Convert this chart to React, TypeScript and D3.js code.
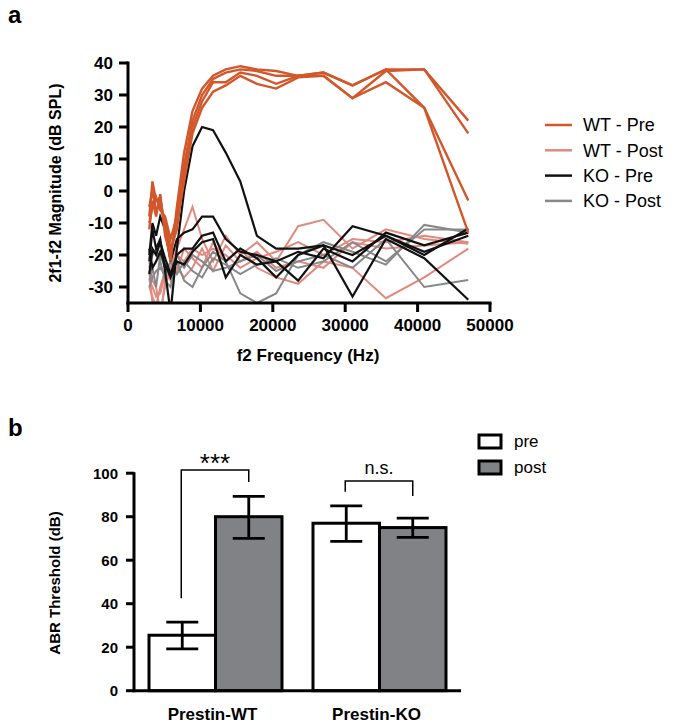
import React from "react";
import * as d3 from "d3";

// ---------- Panel a data ----------
const freqs = [2940, 3375, 3880, 4450, 5120, 5880, 6750, 7750, 8910, 10230, 11750, 13500, 15510, 17810, 20460, 23500, 27000, 31010, 35620, 40920, 47000];

const wtPre = [
  [-8, 3, -3, -2, -12, -22, -5, 12, 25, 32, 36, 38, 39, 38, 37.5, 36, 37, 33, 38, 38, 22],
  [-10, -5, -2, -6, -8, -15, -8, 8, 22, 30, 35, 37, 38, 37.5, 36, 36, 36, 29, 37.5, 38, 18],
  [-5, 0, -6, -4, -10, -18, -12, 5, 20, 28, 34, 34, 37, 36, 33.5, 36, 37, 33, 38, 26, -3],
  [-12, -3, -8, -1, -14, -20, -10, 3, 18, 26, 31, 33, 36, 33.5, 32, 35.5, 36, 29, 34, 26, -13],
];
const wtPost = [
  [-22, -28, -30, -38, -30, -24, -18, -12, -5, -15, -22, -14, -20, -16, -22, -11, -9, -18, -12, -15, -16.5],
  [-25, -35, -38, -40, -28, -26, -20, -22, -18, -20, -18, -20, -24, -21, -19, -16, -20, -15, -16, -14, -16],
  [-28, -30, -33, -32, -26, -22, -25, -18, -21, -24, -16, -22, -18, -24, -27, -29, -22, -24, -33.5, -27, -18],
  [-30, -33, -36, -30, -25, -28, -24, -27, -24, -18, -25, -17, -22, -19, -24, -22, -24, -16, -18, -17, -16],
];
const koPre = [
  [-22, -12, -18, -15, -25, -38, -18, 0, 14, 20, 19, 12, 3, -14, -18, -18, -17, -20, -14, -20, -11.7],
  [-20, -10, -14, -8, -12, -22, -15, -13, -12, -8, -8, -15, -19, -20, -22, -19, -21, -11, -14, -19, -14],
  [-26, -18, -20, -16, -21, -26, -20, -18, -18, -14, -13, -22, -18, -21, -27, -20, -17, -33, -15, -21, -34],
  [-18, -24, -22, -19, -23, -27, -22, -23, -19, -16, -15, -27, -20, -23, -22, -28, -18, -22, -13, -17, -13],
];
const koPost = [
  [-28, -24, -30, -20, -24, -26, -22, -28, -30, -24, -19, -22, -32, -35, -32, -20, -16, -19, -23, -10.6, -13],
  [-24, -20, -18, -22, -28, -30, -20, -24, -20, -22, -25, -24, -22, -20, -25, -22, -20, -24, -15, -30, -27.8],
  [-30, -27, -25, -24, -26, -22, -26, -22, -25, -27, -21, -23, -26, -23, -21, -24, -22, -16, -22, -12, -12],
];
const xTicksA = [0, 10000, 20000, 30000, 40000, 50000];
const yTicksA = [-30, -20, -10, 0, 10, 20, 30, 40];
const legendA = ["WT - Pre", "WT - Post", "KO - Pre", "KO - Post"];

// ---------- Panel b data ----------
const groups = ["Prestin-WT", "Prestin-KO"];
const conditions = ["pre", "post"];
const meanPre = [25.5, 77];
const meanPost = [80, 75];
const errLoPre = [19.2, 68.7];
const errHiPre = [31.5, 85];
const errLoPost = [70, 70.5];
const errHiPost = [89.3, 79.3];
const yTicksB = [0, 20, 40, 60, 80, 100];
const sigLabels = ["***", "n.s."];
const sigTop = [101.5, 96.4];
const sigLeftBottom = [42.5, 91.5];
const sigRightBottom = [96, 89.5];

const FONT = "'Liberation Sans', Arial, Helvetica, sans-serif";
const C_WTPRE = "#d2572b";
const C_WTPOST = "#e08a80";
const C_KOPRE = "#111111";
const C_KOPOST = "#888888";

export default function App() {
  // panel a scales
  const xA = d3.scaleLinear().domain([0, 50000]).range([128, 490]);
  const yA = d3.scaleLinear().domain([-35, 40]).range([303, 63]);
  const lineA = d3
    .line<number>()
    .x((_, i) => xA(freqs[i]))
    .y((d) => yA(d));

  const seriesA = [
    { data: wtPost, color: C_WTPOST, w: 2 },
    { data: koPost, color: C_KOPOST, w: 2 },
    { data: koPre, color: C_KOPRE, w: 2.2 },
    { data: wtPre, color: C_WTPRE, w: 2.4 },
  ];
  const legendColors = [C_WTPRE, C_WTPOST, C_KOPRE, C_KOPOST];

  // panel b scales
  const xB = d3.scaleBand<string>().domain(groups).range([134, 461]).paddingInner(0.189).paddingOuter(0.0915);
  const xSub = d3.scaleBand<string>().domain(conditions).range([0, xB.bandwidth()]).padding(0);
  const yB = d3.scaleLinear().domain([0, 100]).range([690.7, 473.2]);

  const bars: { g: number; c: string; v: number; lo: number; hi: number }[] = [];
  groups.forEach((g, i) => {
    bars.push({ g: i, c: "pre", v: meanPre[i], lo: errLoPre[i], hi: errHiPre[i] });
    bars.push({ g: i, c: "post", v: meanPost[i], lo: errLoPost[i], hi: errHiPost[i] });
  });

  return (
    <svg width={675} height={728} style={{ position: "absolute", left: 0, top: 0, background: "#fff" }} fontFamily={FONT}>
      <defs>
        <clipPath id="clipA">
          <rect x={128} y={40} width={380} height={263} />
        </clipPath>
      </defs>
      {/* Panel a */}
      <text x={8} y={23} fontSize={24} fontWeight="bold">a</text>
      <g clipPath="url(#clipA)">
        {seriesA.map((s, si) =>
          s.data.map((d, di) => (
            <path key={`${si}-${di}`} d={lineA(d) || ""} fill="none" stroke={s.color} strokeWidth={s.w} strokeLinejoin="miter" />
          ))
        )}
      </g>
      {/* y axis a */}
      <line x1={128} x2={128} y1={yA(40) - 1.5} y2={yA(-35) + 1.5} stroke="#000" strokeWidth={3} />
      {yTicksA.map((t) => (
        <g key={t}>
          <line x1={119} x2={128} y1={yA(t)} y2={yA(t)} stroke="#000" strokeWidth={3} />
          <text x={113} y={yA(t)} dy="0.36em" textAnchor="end" fontSize={17} fontWeight="bold">{t}</text>
        </g>
      ))}
      {/* x axis a */}
      <line x1={126.5} x2={xA(50000) + 1.5} y1={303} y2={303} stroke="#000" strokeWidth={3} />
      {xTicksA.map((t) => (
        <g key={t}>
          <line x1={xA(t)} x2={xA(t)} y1={303} y2={312} stroke="#000" strokeWidth={3} />
          <text x={xA(t)} y={331} textAnchor="middle" fontSize={17} fontWeight="bold">{t}</text>
        </g>
      ))}
      <text x={308} y={361} textAnchor="middle" fontSize={17} fontWeight="bold">f2 Frequency (Hz)</text>
      <text transform={`translate(61,${183}) rotate(-90)`} textAnchor="middle" fontSize={16} fontWeight="bold">2f1-f2 Magnitude (dB SPL)</text>
      {/* legend a */}
      {legendA.map((l, i) => (
        <g key={l} transform={`translate(0,${125 + i * 25.3})`}>
          <line x1={545} x2={572} y1={0} y2={0} stroke={legendColors[i]} strokeWidth={2.5} />
          <text x={583} y={0} dy="0.36em" fontSize={18}>{l}</text>
        </g>
      ))}

      {/* Panel b */}
      <text x={8} y={436} fontSize={24} fontWeight="bold">b</text>
      {bars.map((b, i) => {
        const x0 = (xB(groups[b.g]) || 0) + (xSub(b.c) || 0);
        const w = xSub.bandwidth();
        const cx = x0 + w / 2;
        return (
          <g key={i}>
            <rect x={x0} y={yB(b.v)} width={w} height={yB(0) - yB(b.v)} fill={b.c === "pre" ? "#fff" : "#808285"} stroke="#000" strokeWidth={3} />
            <line x1={cx} x2={cx} y1={yB(b.lo)} y2={yB(b.hi)} stroke="#000" strokeWidth={2.8} />
            <line x1={cx - 16} x2={cx + 16} y1={yB(b.lo)} y2={yB(b.lo)} stroke="#000" strokeWidth={2.8} />
            <line x1={cx - 16} x2={cx + 16} y1={yB(b.hi)} y2={yB(b.hi)} stroke="#000" strokeWidth={2.8} />
          </g>
        );
      })}
      {/* axes b */}
      <line x1={134} x2={134} y1={yB(100) - 1} y2={yB(0) + 1.5} stroke="#000" strokeWidth={3} />
      {yTicksB.map((t) => (
        <g key={t}>
          <line x1={126} x2={134} y1={yB(t)} y2={yB(t)} stroke="#000" strokeWidth={3} />
          <text x={118} y={yB(t)} dy="0.36em" textAnchor="end" fontSize={15} fontWeight="bold">{t}</text>
        </g>
      ))}
      <line x1={132.5} x2={461} y1={yB(0)} y2={yB(0)} stroke="#000" strokeWidth={3} />
      {groups.map((g) => (
        <text key={g} x={(xB(g) || 0) + xB.bandwidth() / 2 - 3} y={720} textAnchor="middle" fontSize={17} fontWeight="bold">{g}</text>
      ))}
      <text transform={`translate(60,${583}) rotate(-90)`} textAnchor="middle" fontSize={15} fontWeight="bold">ABR Threshold (dB)</text>
      {/* significance brackets */}
      {groups.map((g, i) => {
        const xl = (xB(g) || 0) + (xSub("pre") || 0) + xSub.bandwidth() / 2 - 1;
        const xr = (xB(g) || 0) + (xSub("post") || 0) + xSub.bandwidth() / 2;
        const yt = yB(sigTop[i]);
        return (
          <g key={g}>
            <path d={`M${xl},${yB(sigLeftBottom[i])}V${yt}H${xr}V${yB(sigRightBottom[i])}`} fill="none" stroke="#000" strokeWidth={1.5} />
            <text x={(xl + xr) / 2} y={i === 0 ? yt + 2 : yt - 7} textAnchor="middle" fontSize={i === 0 ? 26 : 18}>{sigLabels[i]}</text>
          </g>
        );
      })}
      {/* legend b */}
      {conditions.map((c, i) => (
        <g key={c} transform={`translate(0,${441 + i * 26})`}>
          <rect x={479} y={-6} width={22} height={13} fill={c === "pre" ? "#fff" : "#808285"} stroke="#000" strokeWidth={3} />
          <text x={514} y={0} dy="0.36em" fontSize={17}>{c}</text>
        </g>
      ))}
    </svg>
  );
}
